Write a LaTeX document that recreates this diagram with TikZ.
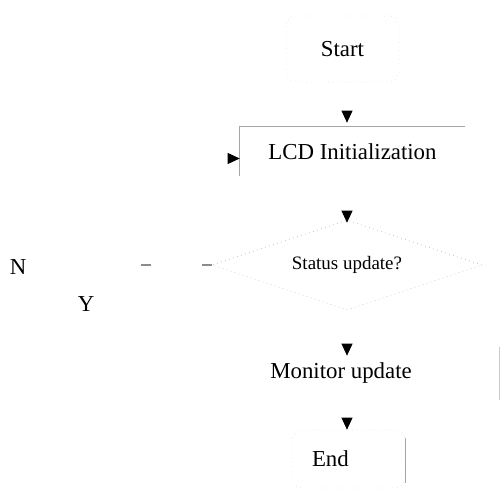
\documentclass[tikz,border=0pt]{standalone}
\usepackage{fontspec}
\setmainfont{Liberation Serif}
\usetikzlibrary{positioning, shapes.geometric, arrows.meta, calc}

\begin{document}
\begin{tikzpicture}[
  x=0.02cm, y=-0.02cm,
  >={Triangle[length=0.24cm, width=0.22cm, black]},
  every node/.style={font=\fontsize{13}{15}\selectfont},
  flowline/.style={->, draw=white, thin},
  termbox/.style={draw=black!10, dotted, rounded corners=0.2cm,
               minimum width=2.26cm, minimum height=1.32cm},
  procbox/.style={minimum width=4.5cm, minimum height=0.98cm, inner sep=0pt},
  decbox/.style={diamond, draw=black!25, dotted, aspect=3,
               minimum width=5.4cm, minimum height=1.8cm, inner sep=0pt,
               font=\fontsize{10.8}{13}\selectfont},
  edge/.style={draw=black!35, thin}
]
\useasboundingbox (0,0) rectangle (500,489);

% ---- Nodes (top to bottom) ----
\node[termbox] (start) at (342.5,49) {Start};

\node[procbox] (lcd) at (352.5,151.5) {LCD Initialization};
\draw[edge] (lcd.south west) -- (lcd.north west) -- (lcd.north east);

\node[decbox] (dec) at (347,265) {Status update?};

\node[minimum width=6.32cm, minimum height=1.06cm] (mon) at (341,373.5)
  {Monitor update};
\draw[edge, draw=black!20] (mon.north east) -- (mon.south east);

\node[termbox, minimum height=1.16cm, text width=1.46cm, align=left,
      inner xsep=0.4cm] (end) at (348.5,459) {End};
\draw[edge] ([yshift=-0.16cm]end.north east) -- ([yshift=0.1cm]end.south east);

% ---- Branch labels ----
\node (no) at (18,267) {N};
\node (yes) at (86,304) {Y};

% ---- Arrows ----
\draw[flowline, shorten >=0.08cm] (start.south -| dec.north) -- (lcd.north -| dec.north);
\draw[flowline, shorten >=-0.06cm] (lcd.south -| dec.north) -- (dec.north);
\draw[flowline, shorten >=-0.18cm] (dec.south) -- (mon.north -| dec.south);
\draw[flowline] (mon.south -| dec.south) -- (end.north -| dec.south);

% ---- Loop back (N) ----
\draw[flowline] (dec.west) -- ++(-93,0) |- ([yshift=-0.14cm]lcd.west);
\draw[edge, draw=black!45, semithick, dash pattern=on 0.2cm off 1.02cm on 0.2cm off 5cm]
  (dec.west) -- ++(-71,0);

\end{tikzpicture}
\end{document}
